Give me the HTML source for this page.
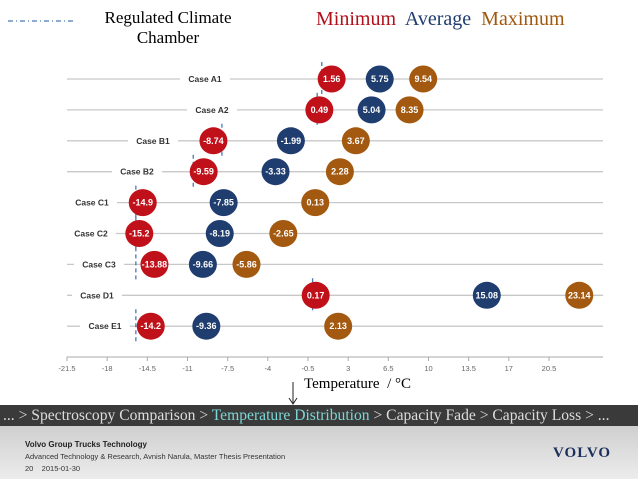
<!DOCTYPE html>
<html><head><meta charset="utf-8"><style>
body{margin:0;width:638px;height:479px;overflow:hidden;background:#fff;font-family:"Liberation Sans",sans-serif;position:relative}
.t{position:absolute;font-family:"Liberation Serif",serif}
</style></head><body>
<svg id="c" width="638" height="479" style="position:absolute;left:0;top:0"></svg>
<div class="t" style="left:88px;top:8px;width:160px;text-align:center;font-size:17px;line-height:20px">Regulated Climate<br>Chamber</div>
<div class="t" style="left:316px;top:8px;font-size:20px;white-space:nowrap"><span style="color:#b0101a">Minimum</span>&nbsp; <span style="color:#1f3d6e">Average</span>&nbsp; <span style="color:#a0580f">Maximum</span></div>
<div class="t" style="left:304px;top:376px;font-size:15px">Temperature &nbsp;/ °C</div>
<div style="position:absolute;left:0;top:405px;width:638px;height:21px;background:#3a3a3a;color:#ddd;font-family:'Liberation Serif',serif;font-size:15.6px;line-height:21px;white-space:nowrap;padding-left:3px;overflow:hidden">... &gt; Spectroscopy Comparison &gt; <span style="color:#7fd6d6">Temperature Distribution</span> &gt; Capacity Fade &gt; Capacity Loss &gt; ...</div>
<div style="position:absolute;left:0;top:426px;width:638px;height:53px;background:linear-gradient(#cfcfcf,#ececec)">
<div style="position:absolute;left:25px;top:14px;font-size:8px;font-weight:bold;color:#222">Volvo Group Trucks Technology</div>
<div style="position:absolute;left:25px;top:26px;font-size:7.5px;color:#333">Advanced Technology &amp; Research, Avnish Narula, Master Thesis Presentation</div>
<div style="position:absolute;left:25px;top:38px;font-size:7.5px;color:#333">20 &nbsp;&nbsp;&nbsp;2015-01-30</div>
<div style="position:absolute;left:553px;top:19px;font-family:'Liberation Serif',serif;font-weight:bold;font-size:15px;color:#1a2f5c;letter-spacing:1px">VOLVO</div>
</div>
<script>
const cases=["Case A1","Case A2","Case B1","Case B2","Case C1","Case C2","Case C3","Case D1","Case E1"];
const minVals=[1.56,0.49,-8.74,-9.59,-14.9,-15.2,-13.88,0.17,-14.2];
const avgVals=[5.75,5.04,-1.99,-3.33,-7.85,-8.19,-9.66,15.08,-9.36];
const maxVals=[9.54,8.35,3.67,2.28,0.13,-2.65,-5.86,23.14,2.13];
const chamber=[0.7,0.3,-8,-10.5,-15.5,-15.5,-15.5,-0.1,-15.5];
const ticks=[-21.5,-18,-14.5,-11,-7.5,-4,-0.5,3,6.5,10,13.5,17,20.5];
const labelX=[205,212,153,137,92,91,99,97,105];
const NS="http://www.w3.org/2000/svg",svg=document.getElementById('c');
const x=v=>67+(v+21.5)*11.476;
const y=i=>79+i*30.9;
function el(t,a,txt){const e=document.createElementNS(NS,t);for(const k in a)e.setAttribute(k,a[k]);if(txt!=null)e.textContent=txt;svg.appendChild(e);return e;}
cases.forEach((c,i)=>{
 let l=el('line',{x1:67,x2:603,y1:y(i),y2:y(i),stroke:'#c8c8c8','stroke-width':1.3});
 
 let r=el('rect',{x:labelX[i]-25,y:y(i)-7,width:50,height:14,fill:'#fff'});
 
 let t=el('text',{x:labelX[i],y:y(i)+3,'text-anchor':'middle','font-size':8.5,'font-weight':'bold',fill:'#333'},c);
 
 let d=el('line',{x1:x(chamber[i]),x2:x(chamber[i]),y1:y(i)-17,y2:y(i)+17,stroke:'#4a78b5','stroke-width':1.3,'stroke-dasharray':'4,3'});
 
});
cases.forEach((c,i)=>{
 [[minVals,'#c0111a','min'],[avgVals,'#1f3d6e','avg'],[maxVals,'#a3590f','max']].forEach(([arr,col,n])=>{
  let e=el('ellipse',{cx:x(arr[i]),cy:y(i),rx:14,ry:13.5,fill:col});
  
  let tt=el('text',{x:x(arr[i]),y:y(i)+3,'text-anchor':'middle','font-size':9,'font-weight':'bold',fill:'#fff'},String(arr[i]));
  
 });
});
let ax=el('line',{x1:67,x2:603,y1:357,y2:357,stroke:'#aaa'});

ticks.forEach(v=>{
 let tk=el('line',{x1:x(v),x2:x(v),y1:357,y2:361,stroke:'#aaa'});
 
 let tl=el('text',{x:x(v),y:371,'text-anchor':'middle','font-size':7.5,fill:'#666'},String(v));
 
});
let lg=el('line',{x1:8,x2:75,y1:21,y2:21,stroke:'#4a78b5','stroke-width':1.3,'stroke-dasharray':'5,3,1,3'});

let ar=el('line',{x1:293,x2:293,y1:382,y2:403,stroke:'#222'});

let ah=el('path',{d:'M289 398 L293 404 L297 398',fill:'none',stroke:'#222'});

</script>
</body></html>
